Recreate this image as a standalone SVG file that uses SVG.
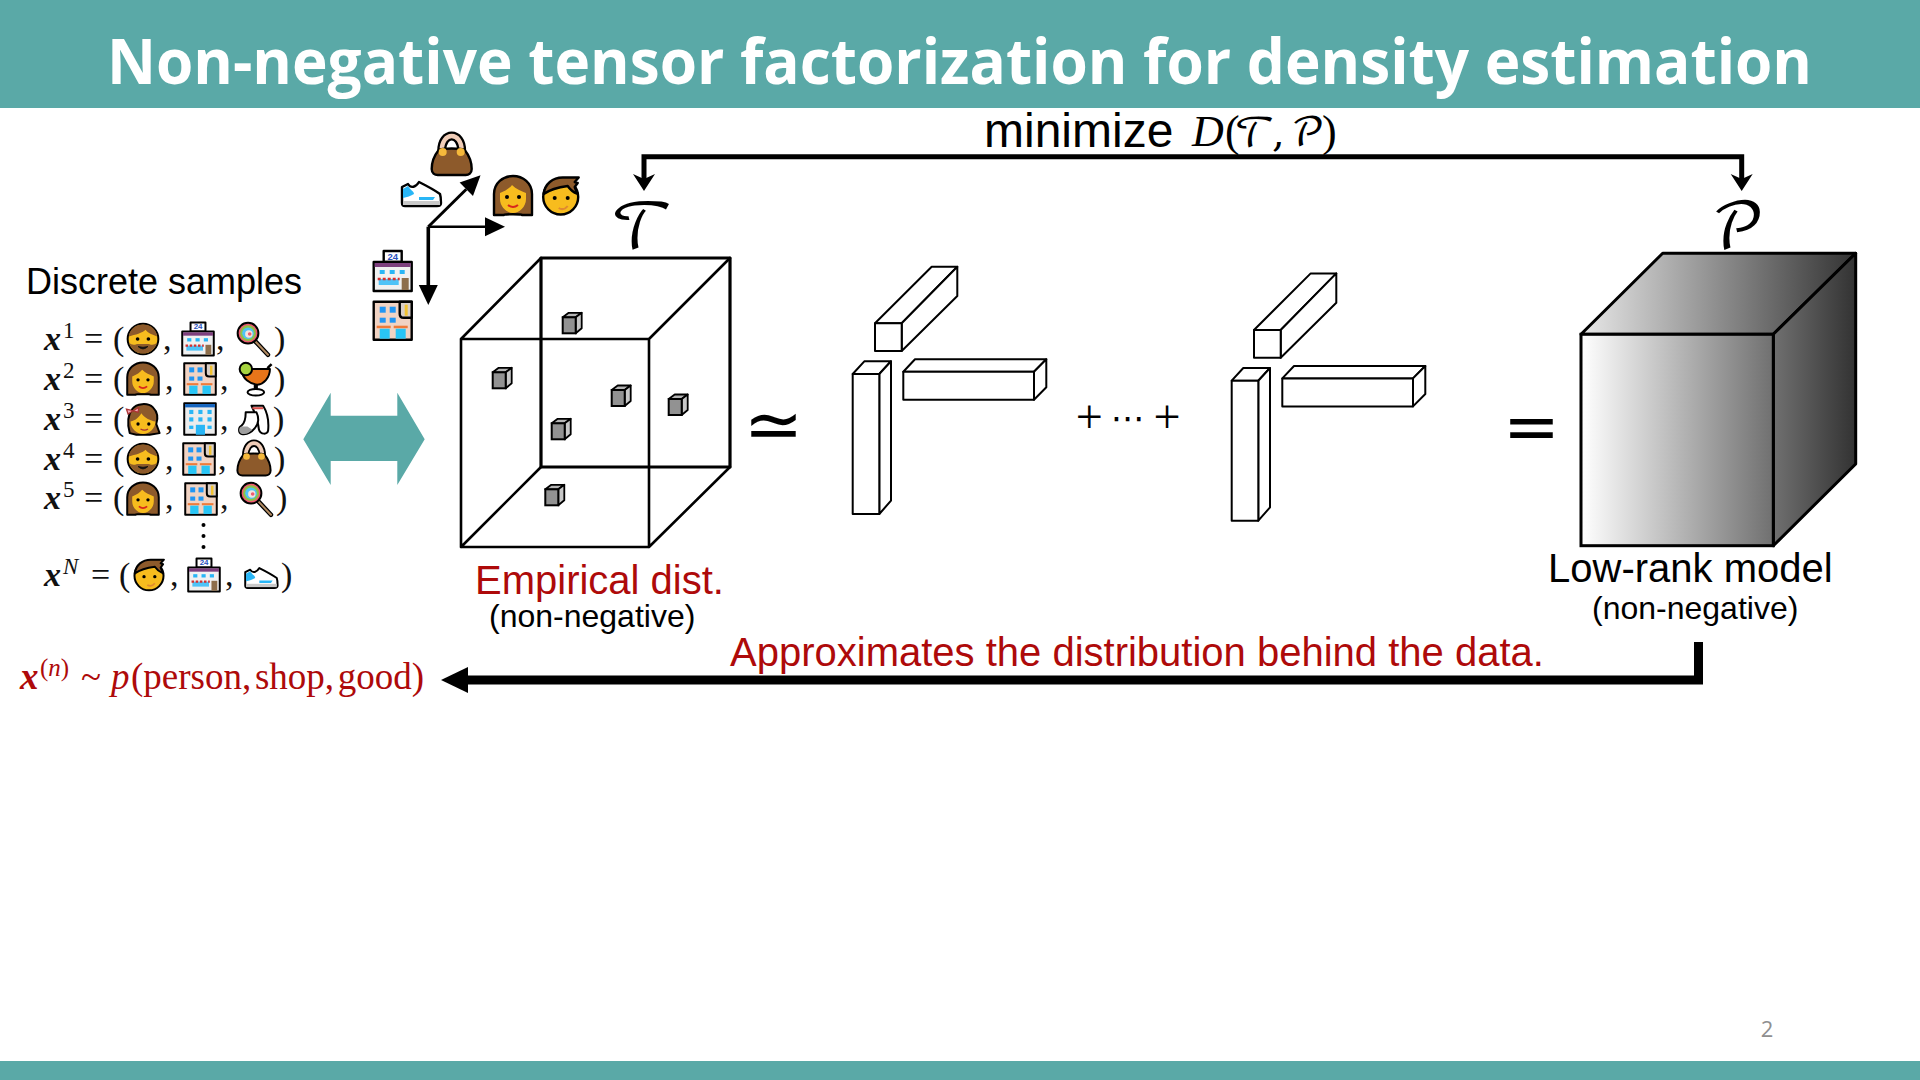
<svg xmlns="http://www.w3.org/2000/svg" width="1920" height="1080" viewBox="0 0 1920 1080">
<style>
.sans{font-family:"Liberation Sans",Arial,sans-serif}
.serif{font-family:"Liberation Serif","Times New Roman",serif}
.dj{font-family:"DejaVu Sans",sans-serif}
.script{font-family:"DejaVu Math TeX Gyre","Liberation Serif",serif;font-style:normal}
.red{fill:#AE0A0A}
.teal{fill:#5AA9A7}
.edge{fill:none;stroke:#000;stroke-width:2.6;stroke-linejoin:round;stroke-linecap:round}
.bar{fill:#fff;stroke:#000;stroke-width:2;stroke-linejoin:round}
.ol{stroke:#000;stroke-width:2.4;stroke-linejoin:round}
.skin{fill:#F7BC1E}
.hair{fill:#8D5A2B}
.sx{font-family:"Liberation Serif",serif;font-size:34px;fill:#111}
.mx{font-weight:bold;font-style:italic}
.sup{font-size:23px}
</style>
<defs>
<linearGradient id="gr" gradientUnits="userSpaceOnUse" x1="1581" y1="0" x2="1855" y2="0">
<stop offset="0" stop-color="#ffffff"/><stop offset="1" stop-color="#333333"/>
</linearGradient>
<linearGradient id="grTop" gradientUnits="userSpaceOnUse" x1="1581" y1="0" x2="1855" y2="0">
<stop offset="0" stop-color="#e8e8e8"/><stop offset="1" stop-color="#333333"/>
</linearGradient>
<marker id="stealth" markerUnits="userSpaceOnUse" markerWidth="32" markerHeight="30" refX="17" refY="15" orient="auto-start-reverse"><path d="M12 4L17 15L12 26L29 15Z" fill="#000"/></marker>
<marker id="tri" markerUnits="userSpaceOnUse" markerWidth="22" markerHeight="22" refX="1" refY="11" orient="auto"><path d="M1 1.5L21 11L1 20.5Z" fill="#000"/></marker>
<marker id="triBig" markerUnits="userSpaceOnUse" markerWidth="30" markerHeight="30" refX="1" refY="15" orient="auto"><path d="M1 2L28 15L1 28Z" fill="#000"/></marker>
<g id="mini">
<path d="M0 0L6-4.500H19L13 0Z" fill="#b5b5b5" stroke="#000" stroke-width="1.800" stroke-linejoin="round"/>
<path d="M13 0L19-4.500V11L13 16Z" fill="#c8c8c8" stroke="#000" stroke-width="1.800" stroke-linejoin="round"/>
<rect width="13" height="16" fill="#929292" stroke="#000" stroke-width="2"/>
</g>
<g id="factor">
<path class="bar" d="M875 323.300L931.700 266.700H957.300L901.700 323.300Z"/>
<path class="bar" d="M901.700 323.300L957.300 266.700V296L901.700 351Z"/>
<rect class="bar" x="875" y="323.300" width="26.700" height="27.700"/>
<path class="bar" d="M852.700 374L864.300 361.300H891L879.300 374Z"/>
<path class="bar" d="M879.300 374L891 361.300V500.700L879.300 514Z"/>
<rect class="bar" x="852.700" y="374" width="26.600" height="140"/>
<path class="bar" d="M903.300 371.700L915 359.300H1046.300L1034 371.700Z"/>
<path class="bar" d="M1034 371.700L1046.300 359.300V387.300L1034 399.700Z"/>
<rect class="bar" x="903.300" y="371.700" width="130.700" height="28"/>
</g>
<g id="man">
<circle class="ol skin" cx="0" cy="0" r="18.500"/>
<path class="hair" d="M-17-3C-16-12-9-17.500 0-17.500S16-12 17-3C11-5 6-7 3-11-1-7-9-5-17-3Z"/>
<path class="hair" d="M-17 4C-13 9-8 6-5 6S5 6 5 6C8 6 13 9 17 4 14 13 8 17.500 0 17.500S-14 13-17 4Z"/>
<circle cx="-6.500" cy="0" r="2.200" fill="#000"/><circle cx="6.500" cy="0" r="2.200" fill="#000"/>
<path d="M-6 9Q0 15 6 9Q0 11-6 9Z" fill="#111" stroke="#111"/>
</g>
<g id="woman">
<path class="ol hair" d="M-19 19V-2C-19-13-10-20 0-20S19-13 19-2V19H9C11 18 -11 18 -9 19Z"/>
<path class="skin" d="M-13-3C-8-5-3-8-1-11 3-7 8-5 13-3V3C13 11 6 17 0 17S-13 11-13 3Z"/>
<circle cx="-6" cy="1" r="2" fill="#000"/><circle cx="6" cy="1" r="2" fill="#000"/>
<path d="M-5 9Q0 13 5 9" fill="none" stroke="#d8261c" stroke-width="2"/>
</g>
<g id="girl">
<path class="ol hair" d="M-16 17C-19 6-19-4-13-12-8-19 6-20 12-14 18-8 18 0 16 6L20 17 8 19H-8Z"/>
<path class="skin" d="M-15 3C-9 2-4-3-2-7 2-1 9 2 15 3 15 11 8 18 0 18S-15 11-15 3Z"/>
<path d="M-20-12L-12-10-18-6ZM-12-10L-5-14-6-8Z" fill="#F4A9B8" stroke="#a33" stroke-width="1.500"/>
<circle cx="-6" cy="6" r="2" fill="#000"/><circle cx="7" cy="6" r="2" fill="#000"/>
<path d="M-3 12Q2 15 6 12" fill="none" stroke="#a33" stroke-width="1.500"/>
</g>
<g id="boy">
<circle class="ol skin" cx="0" cy="1" r="17.500"/>
<path class="ol hair" d="M-17-2C-16-12-8-18.500 2-18.500H18L14-14 17-13 14-9C15-6 16-4 17-2 12-4 9-7 7-10-1-9-10-7-17-2Z" stroke-width="1.600"/>
<circle cx="-6" cy="2" r="2" fill="#000"/><circle cx="7" cy="2" r="2" fill="#000"/>
<path d="M-2 12Q3 15 7 10" fill="none" stroke="#E08A30" stroke-width="2"/>
</g>
<g id="store">
<rect class="ol" x="-9" y="-20" width="18" height="11" fill="#fff"/>
<text x="0" y="-11.500" text-anchor="middle" font-size="9.500" font-weight="bold" fill="#2a52be" font-family="Liberation Sans,sans-serif">24</text>
<rect class="ol" x="-19" y="-9" width="38" height="29" fill="#F1F1F1"/>
<rect x="-18" y="-8" width="36" height="4" fill="#7E3F7E"/>
<rect x="-13" y="-1" width="5" height="4" fill="#29B6F6"/><rect x="-3" y="-1" width="5" height="4" fill="#29B6F6"/><rect x="7" y="-1" width="5" height="4" fill="#29B6F6"/>
<rect x="-14" y="8" width="20" height="6" fill="#4FC3F7"/>
<path d="M-15 8H7" stroke="#D32F2F" stroke-width="2.500" stroke-dasharray="3 2"/>
<rect x="9" y="7" width="7" height="12" fill="#8D6E4B"/>
</g>
<g id="hotel">
<rect class="ol" x="-19" y="-19" width="38" height="38" fill="#F1D3C3"/>
<path class="ol" d="M7-19H19V-3H11C8-3 7-4 7-7Z" fill="#D9CFC8"/>
<rect x="12" y="-16" width="3" height="11" fill="#F2C230"/>
<rect x="-13" y="-14" width="6" height="6" fill="#2196F3"/><rect x="-3" y="-14" width="6" height="6" fill="#2196F3"/>
<rect x="-13" y="-3" width="6" height="5" fill="#2196F3"/><rect x="-3" y="-3" width="6" height="5" fill="#2196F3"/>
<rect x="-16" y="5" width="14" height="2.500" fill="#EF7B3A"/><rect x="1" y="5" width="14" height="2.500" fill="#EF7B3A"/>
<rect x="-13" y="8" width="10" height="10" fill="#29C5F6"/><rect x="3" y="8" width="10" height="10" fill="#29C5F6"/>
</g>
<g id="office">
<rect class="ol" x="-19" y="-19" width="38" height="38" fill="#ECECEC"/>
<rect x="-18" y="-18" width="36" height="4" fill="#1565C0"/>
<g fill="#29B6F6"><rect x="-13" y="-11" width="5" height="5"/><rect x="-2" y="-11" width="5" height="5"/><rect x="9" y="-11" width="5" height="5"/><rect x="-13" y="-2" width="5" height="5"/><rect x="-2" y="-2" width="5" height="5"/><rect x="9" y="-2" width="5" height="5"/><rect x="-13" y="8" width="5" height="4"/><rect x="9" y="8" width="5" height="4"/><rect x="-5" y="7" width="11" height="12"/></g>
</g>
<g id="lolli">
<path d="M2 2L18 19" stroke="#000" stroke-width="5.500" stroke-linecap="round"/>
<path d="M2 2L18 19" stroke="#B08A62" stroke-width="2.500" stroke-linecap="round"/>
<circle class="ol" cx="-6" cy="-7" r="12.500" fill="#EF5A6F"/>
<circle cx="-6" cy="-7" r="9.500" fill="#8BC34A"/>
<circle cx="-6" cy="-7" r="7" fill="#4FC3F7"/>
<circle cx="-5" cy="-6" r="4.500" fill="#F3E4DE"/>
<circle cx="-4" cy="-6" r="2.200" fill="#EF5A6F"/>
</g>
<g id="drink">
<path class="ol" d="M-16-12H18C18-1 10 6 3 7 -6 6 -16 0 -16-12Z" fill="#E8751A"/>
<circle class="ol" cx="-11" cy="-12" r="7.500" fill="#A6D33F"/>
<path d="M1 7V14" stroke="#000" stroke-width="5"/>
<ellipse class="ol" cx="1" cy="16" rx="10" ry="4" fill="#fff"/>
<path d="M15-13L20-18" stroke="#000" stroke-width="3"/>
</g>
<g id="socks">
<path class="ol" d="M-3-16H11C16-8 18 4 17 14 16 19 8 19 6 13 5 4 3-4-3-16Z" fill="#fff"/>
<path class="ol" d="M-10-8H3C6-2 6 6 1 11-3 16-9 19-15 18-19 17-19 10-15 8-11 5-10 0-10-8Z" fill="#fff"/>
<path d="M-15 9C-19 10-19 17-14 18-9 19-5 16-2 13L-8 9Z" fill="#9E9E9E"/>
<path d="M-2-13H11" stroke="#D9534F" stroke-width="2.500"/>
</g>
<g id="bag">
<path d="M-10-4C-10-24 10-24 10-4" fill="none" stroke="#000" stroke-width="9"/>
<path d="M-10-4C-10-24 10-24 10-4" fill="none" stroke="#F0CDB8" stroke-width="4.500"/>
<path class="ol" d="M-13-5C-10-7 10-7 13-5 17 0 20 8 20 14 20 18 17 20 14 20H-14C-17 20-20 18-20 14-20 8-17 0-13-5Z" fill="#8D5A2B"/>
<circle cx="-9" cy="-3" r="4" fill="#F6B93B"/><circle cx="9" cy="-3" r="4" fill="#F6B93B"/>
</g>
<g id="shoe">
<path class="ol" d="M-19-7L-13-10C-10-5-5-7-2-12 4-9 12-5 19 0 20 3 20 7 20 9 20 12 18 12 16 12H-16C-18 12-19 11-19 9Z" fill="#fff"/>
<path d="M-18-5L-13-8C-11-4-7-3-7 0-10 2-14 3-18 4Z" fill="#29B6F6"/>
<path d="M-2 3H14L12 6H-2Z" fill="#29B6F6"/>
<rect x="-18" y="7" width="37" height="4" fill="#C9C9C9"/>
</g>
</defs>
<rect width="1920" height="1080" fill="#fff"/>

<g id="header">
<rect class="teal" x="0" y="0" width="1920" height="108"/>
<text x="959.500" y="84" text-anchor="middle" font-family="Open Sans,sans-serif" font-weight="700" font-size="62" fill="#fff" textLength="1705" lengthAdjust="spacingAndGlyphs">Non-negative tensor factorization for density estimation</text>
</g>
<g id="footer">
<rect class="teal" x="0" y="1061" width="1920" height="19"/>
<text x="1767" y="1037" text-anchor="middle" font-family="Open Sans,sans-serif" font-size="22" fill="#8f8f8f">2</text>
</g>

<g id="connectors">
<path id="double-arrow" class="teal" d="M303.300 439.300L330.700 392.700V415.700H397.300V392.700L424.700 439.300 397.300 485V461H330.700V485Z"/>
<path id="minimize-link" d="M644 179V156.700H1741.700V179" fill="none" stroke="#000" stroke-width="5" stroke-linejoin="miter" marker-start="url(#stealth)" marker-end="url(#stealth)"/>
<path id="axis-shop" d="M428.300 226.700V285" fill="none" stroke="#000" stroke-width="3.600" marker-end="url(#tri)"/>
<path id="axis-person" d="M428.300 226.700H485" fill="none" stroke="#000" stroke-width="2.600" marker-end="url(#tri)"/>
<path id="axis-good" d="M428.300 226.700L466.300 189.300" fill="none" stroke="#000" stroke-width="3" marker-end="url(#tri)"/>
<path id="approx-link" d="M1698.500 642V680H468" fill="none" stroke="#000" stroke-width="9" marker-end="url(#triBig)"/>
</g>

<g id="axis-icons">
<use href="#bag" transform="translate(451.700 155)"/>
<use href="#shoe" transform="translate(421 194)"/>
<use href="#woman" transform="translate(513 196)"/>
<use href="#boy" transform="translate(560.700 196)"/>
<use href="#store" transform="translate(392.700 271)"/>
<use href="#hotel" transform="translate(392.700 320.700)"/>
</g>

<g id="samples">
<text class="sans" x="26" y="294" font-size="36" fill="#000">Discrete samples</text>
<text class="sx"><tspan class="mx" x="44" y="350">x</tspan><tspan class="sup" x="63" y="338">1</tspan><tspan x="84" y="350">=</tspan><tspan x="113" y="350">(</tspan><tspan x="163" y="350">,</tspan><tspan x="216" y="350">,</tspan><tspan x="274" y="350">)</tspan></text>
<text class="sx"><tspan class="mx" x="44" y="390">x</tspan><tspan class="sup" x="63" y="378">2</tspan><tspan x="84" y="390">=</tspan><tspan x="113" y="390">(</tspan><tspan x="165" y="390">,</tspan><tspan x="220" y="390">,</tspan><tspan x="274" y="390">)</tspan></text>
<text class="sx"><tspan class="mx" x="44" y="430">x</tspan><tspan class="sup" x="63" y="418">3</tspan><tspan x="84" y="430">=</tspan><tspan x="113" y="430">(</tspan><tspan x="165" y="430">,</tspan><tspan x="220" y="430">,</tspan><tspan x="273" y="430">)</tspan></text>
<text class="sx"><tspan class="mx" x="44" y="470">x</tspan><tspan class="sup" x="63" y="458">4</tspan><tspan x="84" y="470">=</tspan><tspan x="113" y="470">(</tspan><tspan x="165" y="470">,</tspan><tspan x="218" y="470">,</tspan><tspan x="274" y="470">)</tspan></text>
<text class="sx"><tspan class="mx" x="44" y="509">x</tspan><tspan class="sup" x="63" y="497">5</tspan><tspan x="84" y="509">=</tspan><tspan x="113" y="509">(</tspan><tspan x="165" y="509">,</tspan><tspan x="220" y="509">,</tspan><tspan x="276" y="509">)</tspan></text>
<text class="sx"><tspan class="mx" x="44" y="586">x</tspan><tspan class="sup" font-style="italic" x="63" y="574">N</tspan><tspan x="91" y="586">=</tspan><tspan x="119" y="586">(</tspan><tspan x="170" y="586">,</tspan><tspan x="225" y="586">,</tspan><tspan x="281" y="586">)</tspan></text>
<circle cx="203.500" cy="525" r="2"/><circle cx="203.500" cy="536" r="2"/><circle cx="203.500" cy="547" r="2"/>
<g transform="translate(143 339) scale(.83)"><use href="#man"/></g>
<g transform="translate(198 339) scale(.83)"><use href="#store"/></g>
<g transform="translate(253 339) scale(.83)"><use href="#lolli"/></g>
<g transform="translate(143 379) scale(.83)"><use href="#woman"/></g>
<g transform="translate(200 379) scale(.83)"><use href="#hotel"/></g>
<g transform="translate(255 379) scale(.83)"><use href="#drink"/></g>
<g transform="translate(143 419) scale(.83)"><use href="#girl"/></g>
<g transform="translate(200 419) scale(.83)"><use href="#office"/></g>
<g transform="translate(254 419) scale(.83)"><use href="#socks"/></g>
<g transform="translate(143 459) scale(.83)"><use href="#man"/></g>
<g transform="translate(199 459) scale(.83)"><use href="#hotel"/></g>
<g transform="translate(254 459) scale(.83)"><use href="#bag"/></g>
<g transform="translate(143 499) scale(.83)"><use href="#woman"/></g>
<g transform="translate(201 499) scale(.83)"><use href="#hotel"/></g>
<g transform="translate(256 499) scale(.83)"><use href="#lolli"/></g>
<g transform="translate(149 575) scale(.83)"><use href="#boy"/></g>
<g transform="translate(204 575) scale(.83)"><use href="#store"/></g>
<g transform="translate(261 578) scale(.83)"><use href="#shoe"/></g>
</g>

<g id="empirical-tensor">
<path class="edge" d="M541 258H730V467H541ZM649 467H541" style="stroke-width:3.200"/>
<path class="edge" d="M461 339L541 258M649 339L730 258M461 547L541 467M649 547L730 467M461 339H649V547H461Z"/>
<use href="#mini" x="562.700" y="317.300"/>
<use href="#mini" x="492.700" y="372.300"/>
<use href="#mini" x="611.700" y="390"/>
<use href="#mini" x="668.700" y="399"/>
<use href="#mini" x="551.700" y="423.300"/>
<use href="#mini" x="545.300" y="489.300"/>
<text class="script" x="642" y="249" font-size="62" text-anchor="middle">𝒯</text>
<text class="sans red" x="475" y="594" font-size="40">Empirical dist.</text>
<text class="sans" x="489" y="627" font-size="32">(non-negative)</text>
</g>

<g id="approx-sign"><text class="dj" x="773.500" y="449" font-size="71" text-anchor="middle">≃</text></g>

<g id="factor-1"><use href="#factor"/></g>
<g id="plus-dots">
<text class="serif" x="1089.300" y="433" font-size="48" text-anchor="middle">+</text>
<text class="dj" x="1127.700" y="430" font-size="34" text-anchor="middle">⋯</text>
<text class="serif" x="1167" y="433" font-size="48" text-anchor="middle">+</text>
</g>
<g id="factor-2"><use href="#factor" x="379" y="6.700"/></g>
<g id="equals-sign"><text class="dj" x="1531.500" y="450" font-size="68" text-anchor="middle">=</text></g>

<g id="low-rank-model">
<path d="M1581 334.300L1662.700 253.300H1855.700L1773.300 334.300Z" fill="url(#grTop)" stroke="#000" stroke-width="3" stroke-linejoin="round"/>
<path d="M1773.300 334.300L1855.700 253.300V464L1773.300 545.700Z" fill="url(#gr)" stroke="#000" stroke-width="3" stroke-linejoin="round"/>
<rect x="1581" y="334.300" width="192.300" height="211.400" fill="url(#gr)" stroke="#000" stroke-width="3"/>
<text class="script" x="1738" y="249" font-size="64" text-anchor="middle">𝒫</text>
<text class="sans" x="1548" y="582" font-size="40">Low-rank model</text>
<text class="sans" x="1592" y="619" font-size="32">(non-negative)</text>
</g>

<g id="labels">
<text class="sans" x="984" y="147" font-size="48">minimize</text>
<text class="serif" y="146" font-size="44"><tspan x="1192" font-style="italic">D</tspan><tspan x="1225">(</tspan></text>
<text class="script" y="146" font-size="40"><tspan x="1234">𝒯</tspan><tspan x="1272">,</tspan><tspan x="1291">𝒫</tspan></text>
<text class="serif" x="1322" y="146" font-size="44">)</text>
<text class="sans red" x="730" y="666" font-size="40">Approximates the distribution behind the data.</text>
<text class="serif red" y="689" font-size="37" word-spacing="-5.500"><tspan x="20" font-weight="bold" font-style="italic">x</tspan><tspan x="40" y="676" font-size="25">(<tspan font-style="italic">n</tspan>)</tspan><tspan x="81" y="689">~</tspan><tspan x="111" font-style="italic">p</tspan><tspan x="131">(person, shop, good)</tspan></text>
</g>
</svg>
